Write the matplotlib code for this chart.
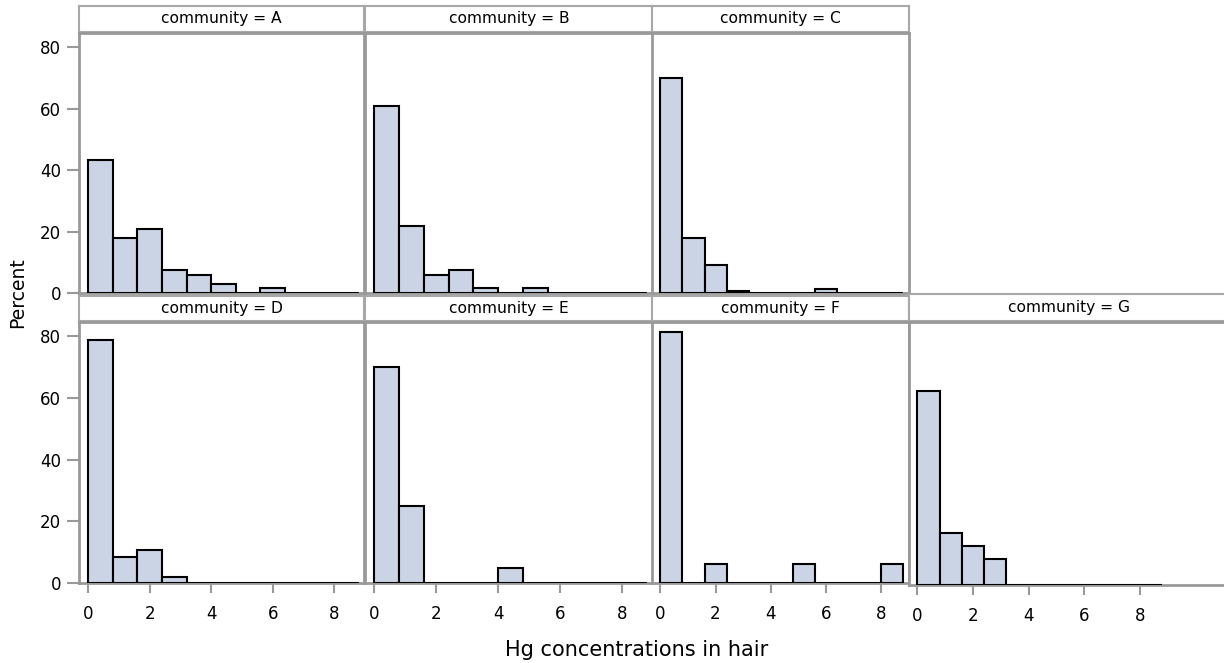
import matplotlib
matplotlib.use("Agg")
import matplotlib.pyplot as plt

W, H = 1224, 663

# histogram bins (left edges, width 0.8)
bin_left = [0.0, 0.8, 1.6, 2.4, 3.2, 4.0, 4.8, 5.6, 6.4, 7.2, 8.0]
bin_width = 0.8

communities = ["A", "B", "C", "D", "E", "F", "G"]
pct_A = [43.3, 17.9, 20.9, 7.5, 6.0, 3.0, 0, 1.5, 0, 0, 0]
pct_B = [60.9, 21.7, 5.8, 7.6, 1.5, 0, 1.5, 0, 0, 0, 0]
pct_C = [70.1, 17.8, 9.2, 0.7, 0, 0, 0, 1.3, 0, 0, 0]
pct_D = [78.7, 8.5, 10.6, 2.1, 0, 0, 0, 0, 0, 0, 0]
pct_E = [70.0, 25.0, 0, 0, 0, 5.0, 0, 0, 0, 0, 0]
pct_F = [81.3, 0, 6.2, 0, 0, 0, 6.2, 0, 0, 0, 6.2]
pct_G = [62.5, 16.7, 12.5, 8.3, 0, 0, 0, 0, 0, 0, 0]
percents = [pct_A, pct_B, pct_C, pct_D, pct_E, pct_F, pct_G]

x_ticks = [0, 2, 4, 6, 8]
y_ticks = [0, 20, 40, 60, 80]

FILL = "#CAD4E4"
FRAME = "#999999"

# panel boxes in pixels: (x0, x1, header_top, header_bottom, plot_top, plot_bottom, xmax)
panels = {
    "A": (79, 364, 6, 32, 33, 293, 8.97),
    "B": (365, 653, 6, 32, 33, 293, 9.0),
    "C": (652, 909, 6, 32, 33, 293, 9.0),
    "D": (79, 364, 296, 321, 322, 583, 8.97),
    "E": (365, 653, 296, 321, 322, 583, 9.0),
    "F": (652, 909, 296, 321, 322, 583, 9.0),
    "G": (909, 1230, 294, 321, 322, 585, 11.25),
}


def rect(x0, x1, y0, y1):
    return [x0 / W, 1 - y1 / H, (x1 - x0) / W, (y1 - y0) / H]


fig = plt.figure(figsize=(W / 100, H / 100), dpi=100)

for name, pct in zip(communities, percents):
    x0, x1, ht, hb, pt, pb, xmax = panels[name]

    # header strip
    hax = fig.add_axes(rect(x0, x1, ht, hb))
    hax.set_xticks([]); hax.set_yticks([])
    for s in hax.spines.values():
        s.set_color("#a8a8a8"); s.set_linewidth(1.5)
    hax.text(0.5, 0.5, f"community = {name}", ha="center", va="center",
             fontsize=11.2, transform=hax.transAxes)

    ax = fig.add_axes(rect(x0, x1, pt, pb))
    ax.bar(bin_left, pct, width=bin_width, align="edge", color=FILL,
           edgecolor="black", linewidth=1.5, zorder=3)
    ax.set_xlim(-0.3, xmax)
    ax.set_ylim(0, 84.6)
    for s in ax.spines.values():
        s.set_color(FRAME); s.set_linewidth(2)
    ax.set_yticks(y_ticks)
    ax.tick_params(axis="y", direction="out", length=9, width=1.5,
                   color=FRAME, labelsize=12, pad=4)
    if name not in ("A", "D"):
        ax.tick_params(axis="y", left=False, labelleft=False)
    ax.set_xticks(x_ticks)
    if name in ("D", "E", "F", "G"):
        ax.tick_params(axis="x", direction="out", length=7, width=1.5,
                       color=FRAME, labelsize=12, pad=9)
    else:
        ax.tick_params(axis="x", bottom=False, labelbottom=False)

fig.text(18 / W, 1 - 293 / H, "Percent", rotation=90, ha="center",
         va="center", fontsize=13.5)
fig.text(637 / W, 1 - 650 / H, "Hg concentrations in hair", ha="center",
         va="center", fontsize=15)

fig.savefig("out.png", dpi=100, facecolor="white")
